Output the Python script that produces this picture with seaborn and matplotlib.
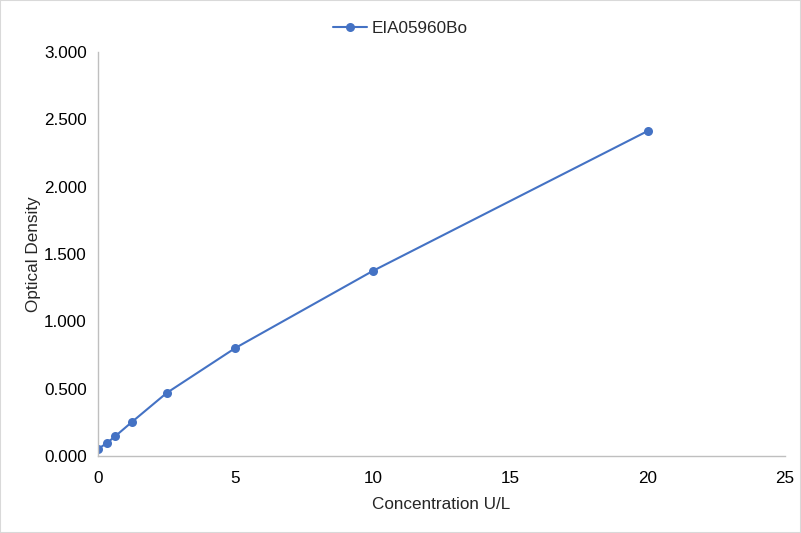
import numpy as np
import pandas as pd
import matplotlib
matplotlib.use("Agg")
import matplotlib.pyplot as plt
import seaborn as sns

conc = [0, 0.3125, 0.625, 1.25, 2.5, 5, 10, 20]
od = [0.052, 0.094, 0.146, 0.255, 0.468, 0.802, 1.374, 2.413]
series_name = "EIA05960Bo"

sns.set_style("white")
plt.rcParams['font.family'] = ['Liberation Sans', 'DejaVu Sans']

df = pd.DataFrame({"Concentration": conc, "OD": od, "Series": series_name})

fig = plt.figure(figsize=(8.01, 5.33), dpi=100)
ax = fig.add_axes([0.1223, 0.1445, 0.8577, 0.7579])
sns.lineplot(data=df, x="Concentration", y="OD", hue="Series", palette=["#4472C4"],
             marker="o", markersize=6.5, markeredgewidth=0, linewidth=1.5, ax=ax)

ax.set_xlim(0, 25)
ax.set_ylim(0, 3)
ax.set_xticks(np.arange(0, 26, 5))
ax.set_yticks(np.arange(0, 3.01, 0.5))
ax.set_yticklabels([f"{v:.3f}" for v in np.arange(0, 3.01, 0.5)])
ax.tick_params(axis="both", labelsize=12.3, length=0, colors="#000000")
ax.tick_params(axis="x", pad=11)
ax.tick_params(axis="y", pad=8)
ax.set_xlabel("Concentration U/L", fontsize=12.3, labelpad=8)
ax.set_ylabel("Optical Density", fontsize=12.3, labelpad=2)

for s in ["top", "right"]:
    ax.spines[s].set_visible(False)
for s in ["left", "bottom"]:
    ax.spines[s].set_color("#BFBFBF")
    ax.spines[s].set_linewidth(1)

ax.legend(loc="upper center", bbox_to_anchor=(0.44, 1.115), frameon=False,
          fontsize=12.3, handlelength=2.0, handletextpad=0.3, title=None)

fig.patches.append(plt.Rectangle((0, 0), 1, 1, transform=fig.transFigure,
                                 fill=False, edgecolor="#D9D9D9", linewidth=1.5))
fig.savefig("out.png", dpi=100)
